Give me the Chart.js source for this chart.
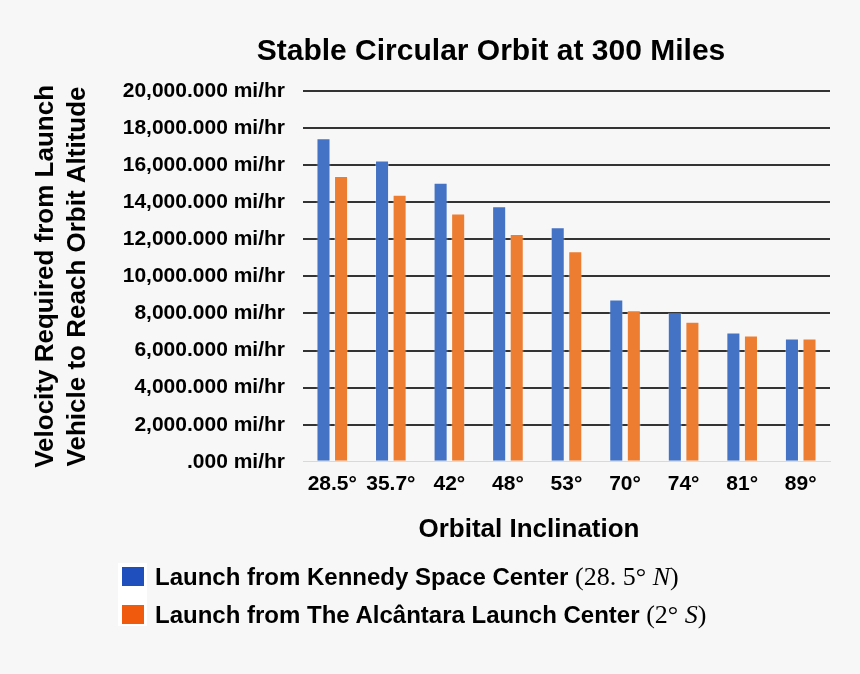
<!DOCTYPE html>
<html>
<head>
<meta charset="utf-8">
<script src="https://cdn.jsdelivr.net/npm/chart.js@4"></script>
<style>
  body { margin: 0; background: #f7f7f7; }
  #wrap { position: relative; width: 860px; height: 674px; }
  #legend { position: absolute; left: 118px; top: 563px; font-family: "Liberation Sans", Arial, sans-serif; }
  #legend .keys { position: absolute; left: 0; top: 0; width: 29px; height: 63px; background: #fff; }
  #legend .row { position: absolute; left: 4px; height: 20px; white-space: nowrap; }
  #legend .sw { position: absolute; left: 0; top: 0; width: 22px; height: 19px; }
  #legend .txt { position: absolute; left: 33px; top: -5px; font-size: 24px; font-weight: bold; color: #000; }
  #legend .math { font-family: "Liberation Serif", "DejaVu Serif", serif; font-weight: normal; font-size: 26px; }
  #legend .math i { font-style: italic; }
</style>
</head>
<body>
<div id="wrap">
  <canvas id="chart" width="860" height="674"></canvas>
  <div id="legend">
    <div class="keys"></div>
    <div class="row" style="top:4px"><div class="sw" style="background:#1f4fbd"></div><div class="txt">Launch from Kennedy Space Center <span class="math">(28. 5° <i>N</i>)</span></div></div>
    <div class="row" style="top:42px"><div class="sw" style="background:#ef5a0c"></div><div class="txt">Launch from The Alcântara Launch Center <span class="math">(2° <i>S</i>)</span></div></div>
  </div>
</div>
<script>
const chartTitle = "Stable Circular Orbit at 300 Miles"
const xTitle = "Orbital Inclination"
const yTitle = ["Velocity Required from Launch", "Vehicle to Reach Orbit Altitude"]

const inclinations = ["28.5°", "35.7°", "42°", "48°", "53°", "70°", "74°", "81°", "89°"]
const kennedy = [17450, 16250, 15050, 13780, 12650, 8750, 8040, 6970, 6650]
const alcantara = [15420, 14400, 13390, 12290, 11350, 8180, 7550, 6810, 6650]
const seriesNames = ["Launch from Kennedy Space Center (28.5° N)", "Launch from The Alcântara Launch Center (2° S)"]

const font = "'Liberation Sans', Arial, sans-serif"

const fmtTick = (v) => {
    if (v === 0) return ".000 mi/hr"
    return v.toLocaleString("en-US", { minimumFractionDigits: 3, maximumFractionDigits: 3 }) + " mi/hr"
}

// titles placed like in the original picture (not centred on the plot)
const extraTitles = {
    id: "extraTitles",
    afterDraw(chart) {
        const ctx = chart.ctx
        ctx.save()
        ctx.fillStyle = "#000"
        ctx.textAlign = "center"
        ctx.textBaseline = "middle"
        ctx.font = "bold 30px " + font
        ctx.fillText(chartTitle, 491, 52)
        ctx.font = "bold 26px " + font
        ctx.fillText(xTitle, 529, 530)
        ctx.restore()
    }
}

const chart = new Chart(document.querySelector("#chart"), {
    type: "bar",
    data: {
        labels: inclinations,
        datasets: [{
            label: seriesNames[0],
            data: kennedy,
            backgroundColor: "#4472c4",
            borderColor: "rgba(255,255,255,0.3)",
            borderWidth: 1
        }, {
            label: seriesNames[1],
            data: alcantara,
            backgroundColor: "#ed7d31",
            borderColor: "rgba(255,255,255,0.3)",
            borderWidth: 1
        }]
    },
    options: {
        responsive: false,
        animation: false,
        categoryPercentage: 0.6,
        barPercentage: 0.8,
        layout: { padding: { top: 91, right: 30, bottom: 167, left: 0 } },
        plugins: {
            legend: { display: false },
            title: { display: false },
            tooltip: { enabled: false }
        },
        scales: {
            x: {
                grid: { display: false, drawTicks: false },
                border: { display: true, color: "#d9d9d9", width: 1 },
                ticks: {
                    color: "#000",
                    padding: 10,
                    autoSkip: false,
                    maxRotation: 0,
                    font: { family: font, size: 21, weight: "bold" }
                }
            },
            y: {
                min: 0,
                max: 20000,
                afterFit: (scale) => { scale.width = 303 },
                grid: {
                    drawTicks: false,
                    lineWidth: 2,
                    color: (c) => c.tick && c.tick.value === 0 ? "rgba(0,0,0,0)" : "#333333"
                },
                border: { display: false },
                ticks: {
                    stepSize: 2000,
                    color: "#000",
                    padding: 18,
                    font: { family: font, size: 21, weight: "bold" },
                    callback: (v) => fmtTick(v)
                },
                title: {
                    display: true,
                    text: yTitle,
                    color: "#000",
                    font: { family: font, size: 26, weight: "bold", lineHeight: 1.23 },
                    padding: { top: 30, bottom: 0 }
                }
            }
        }
    },
    plugins: [extraTitles]
})
</script>
</body>
</html>
